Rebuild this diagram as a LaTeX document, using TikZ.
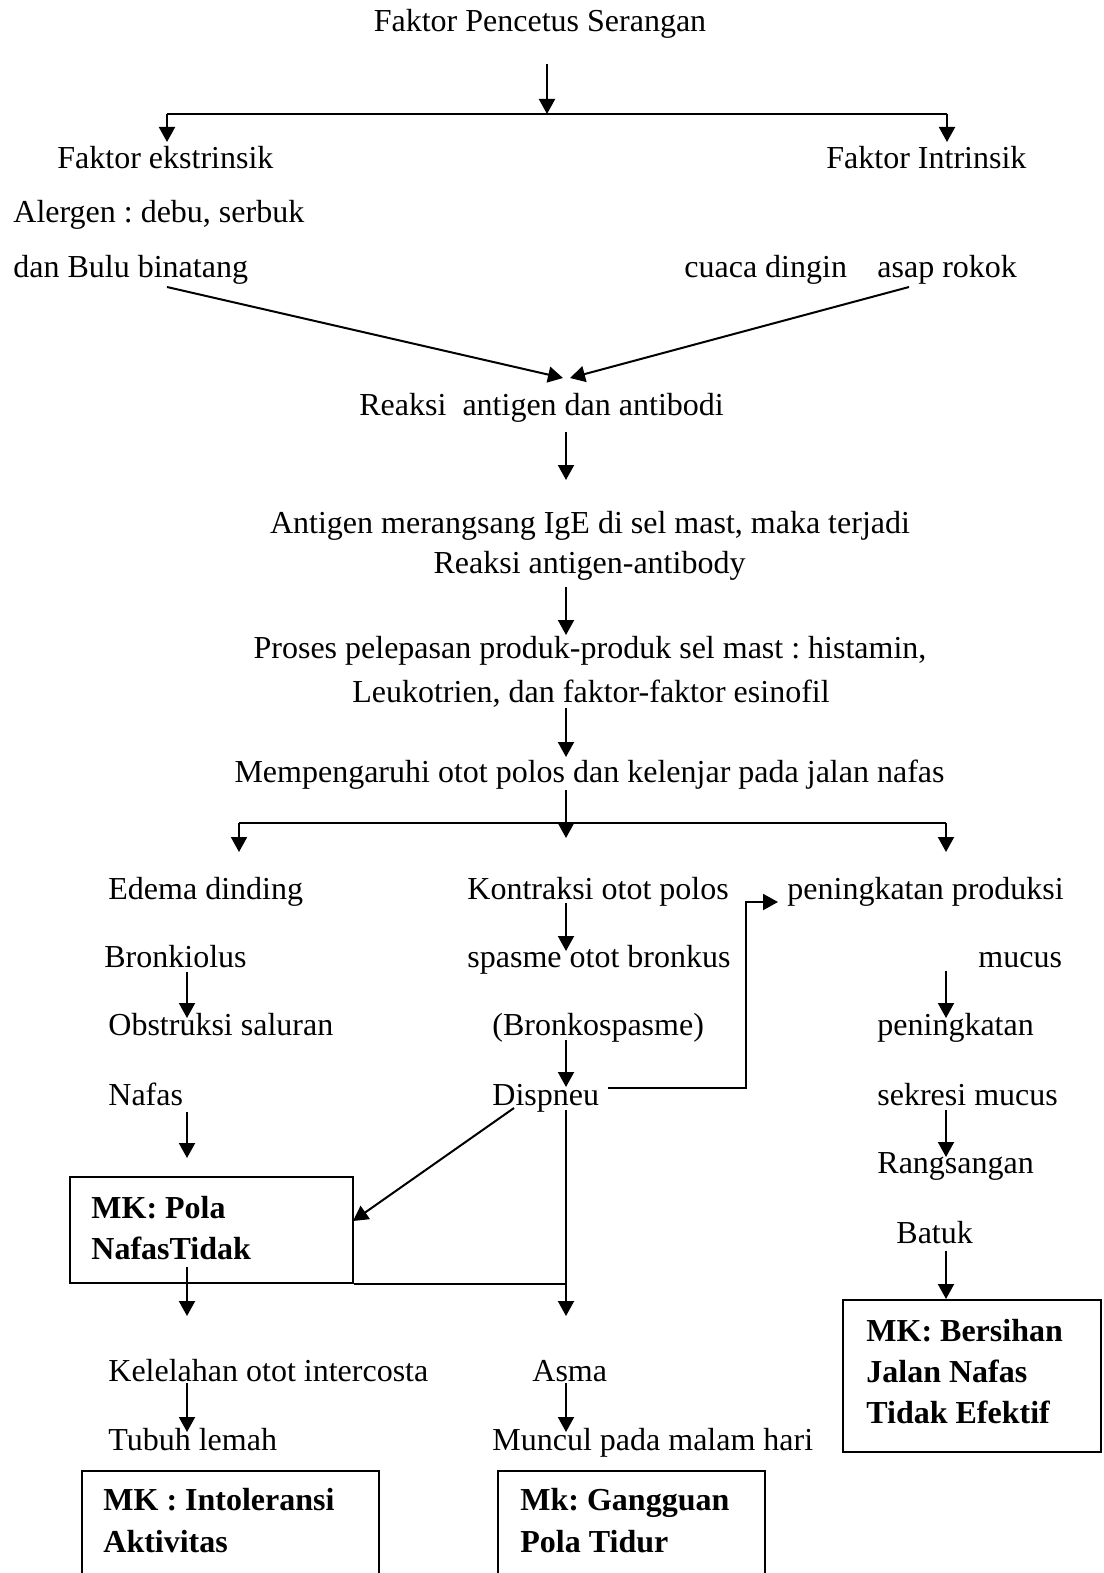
\documentclass[tikz,border=0pt]{standalone}
\usepackage{fontspec}
\setmainfont{Liberation Serif}
\usetikzlibrary{arrows.meta,fit}
\begin{document}
\frenchspacing
\begin{tikzpicture}[x=0.5pt,y=-0.5pt,
  txt/.style={inner sep=0pt,anchor=base west,font=\fontsize{16}{19}\selectfont},
  ctxt/.style={txt,anchor=base},
  btxt/.style={inner sep=0pt,anchor=base west,font=\fontsize{16}{19}\selectfont\bfseries},
  ln/.style={line width=1pt},
  arr/.style={ln,-{Triangle[length=7.5pt,width=8pt]}},
  boxst/.style={draw,line width=1pt,inner sep=0pt}]
\useasboundingbox (0,0) rectangle (1103,1573);
\clip (0,0) rectangle (1103,1573);

% ---- text nodes ----
\node[ctxt] (title) at (540,32) {Faktor Pencetus Serangan};
\node[txt] (ekst) at (57,169) {Faktor ekstrinsik};
\node[txt] (intr) at (826,169) {Faktor Intrinsik};
\node[txt] (alergen) at (13,223) {Alergen : debu, serbuk};
\node[txt] (bulu) at (13,278) {dan Bulu binatang};
\node[txt] (cuaca) at (684,278) {cuaca dingin};
\node[txt] (asap) at (877,278) {asap rokok};
\node[txt] (reak) at (359,415) {Reaksi\ \ antigen dan antibodi};
\node[ctxt] (antigen) at (590,533) {Antigen merangsang IgE di sel mast, maka terjadi};
\node[ctxt] (reak2) at (589.5,573) {Reaksi antigen-antibody};
\node[ctxt] (proses) at (590,658) {Proses pelepasan produk-produk sel mast : histamin,};
\node[ctxt] (leuko) at (591,702) {Leukotrien, dan faktor-faktor esinofil};
\node[ctxt] (memp) at (589.5,782) {Mempengaruhi otot polos dan kelenjar pada jalan nafas};

\node[txt] (edema) at (108,899) {Edema dinding};
\node[txt] (kontr) at (467,899) {Kontraksi otot polos};
\node[txt] (prod) at (787,899) {peningkatan produksi};
\node[txt] (bronk) at (104,967) {Bronkiolus};
\node[txt] (spasme) at (467,967) {spasme otot bronkus};
\node[txt] (mucus) at (978,967) {mucus};
\node[txt] (obst) at (108,1035) {Obstruksi saluran};
\node[txt] (bsp) at (492,1035) {(Bronkospasme)};
\node[txt] (ping) at (877,1035) {peningkatan};
\node[txt] (nafas) at (108,1105) {Nafas};
\node[txt] (disp) at (492,1105) {Dispneu};
\node[txt] (sekr) at (877,1105) {sekresi mucus};
\node[txt] (rang) at (877,1173) {Rangsangan};
\node[txt] (batuk) at (896,1243) {Batuk};
\node[txt] (kel) at (108,1381) {Kelelahan otot intercosta};
\node[txt] (asma) at (532,1381) {Asma};
\node[txt] (tubuh) at (108,1450) {Tubuh lemah};
\node[txt] (muncul) at (492,1450) {Muncul pada malam hari};

% ---- boxes ----
\node[boxst,fit={(70,1177) (353,1283)}] (pola) {};
\node[btxt] (pola1) at (91,1218) {MK: Pola};
\node[btxt] (pola2) at (91,1259) {NafasTidak};

\node[boxst,fit={(843,1300) (1101,1452)}] (bers) {};
\node[btxt] (bers1) at (866,1341) {MK: Bersihan};
\node[btxt] (bers2) at (866,1382) {Jalan Nafas};
\node[btxt] (bers3) at (866,1423) {Tidak Efektif};

\node[boxst,fit={(82,1471) (378.5,1620)}] (intol) {};
\node[btxt] (intol1) at (103,1510) {MK : Intoleransi};
\node[btxt] (intol2) at (103,1552) {Aktivitas};

\node[boxst,fit={(498,1471) (765,1620)}] (gang) {};
\node[btxt] (gang1) at (520,1510) {Mk: Gangguan};
\node[btxt] (gang2) at (520,1552) {Pola Tidur};

% ---- connector points ----
\coordinate (t0) at (547,64);
\coordinate (t1) at (547,114);
\coordinate (tl) at (167,114);
\coordinate (tr) at (947,114);
\coordinate (tl2) at (167,142);
\coordinate (tr2) at (947,142);
\coordinate (b0) at (167,287);
\coordinate (c0) at (909,287);
\coordinate (r0) at (563,378);
\coordinate (r1) at (570,378);
\coordinate (a1) at (566,432);
\coordinate (a2) at (566,480);
\coordinate (a3) at (566,587);
\coordinate (a4) at (566,635);
\coordinate (a5) at (566,708);
\coordinate (a6) at (566,757);
\coordinate (m0) at (566,790);
\coordinate (m1) at (566,838);
\coordinate (ml) at (239,823);
\coordinate (mr) at (946,823);
\coordinate (ml2) at (239,852);
\coordinate (mr2) at (946,852);
\coordinate (k1) at (566,903);
\coordinate (k2) at (566,951);
\coordinate (k3) at (566,1040);
\coordinate (k4) at (566,1087);
\coordinate (d0) at (608,1088);
\coordinate (d1) at (746,902);
\coordinate (d2) at (778,902);
\coordinate (e1) at (187,972);
\coordinate (e2) at (187,1018);
\coordinate (e3) at (187,1112);
\coordinate (e4) at (187,1158);
\coordinate (u1) at (946,971);
\coordinate (u2) at (946,1018);
\coordinate (u3) at (946,1110);
\coordinate (u4) at (946,1157);
\coordinate (u5) at (946,1251);
\coordinate (g0) at (514,1108);
\coordinate (g1) at (353,1221);
\coordinate (v0) at (566,1110);
\coordinate (v1) at (566,1316);
\coordinate (p1) at (187,1267);
\coordinate (p2) at (187,1316);
\coordinate (q1) at (187,1383);
\coordinate (q2) at (187,1432);
\coordinate (s1) at (566,1383);
\coordinate (s2) at (566,1432);

% ---- connectors ----
\draw[arr] (t0) -- (t1);
\draw[ln] (tl) -- (tr);
\draw[arr] (tl) -- (tl2);
\draw[arr] (tr) -- (tr2);
\draw[arr] (b0) -- (r0);
\draw[arr] (c0) -- (r1);
\draw[arr] (a1) -- (a2);
\draw[arr] (a3) -- (a4);
\draw[arr] (a5) -- (a6);
\draw[arr] (m0) -- (m1);
\draw[ln] (ml) -- (mr);
\draw[arr] (ml) -- (ml2);
\draw[arr] (mr) -- (mr2);
\draw[arr] (k1) -- (k2);
\draw[arr] (k3) -- (k4);
\draw[arr] (d0) -| (d1) -- (d2);
\draw[arr] (e1) -- (e2);
\draw[arr] (e3) -- (e4);
\draw[arr] (u1) -- (u2);
\draw[arr] (u3) -- (u4);
\draw[arr] (u5) -- (bers.north -| u5);
\draw[arr] (g0) -- (g1);
\draw[arr] (v0) -- (v1);
\draw[ln] (pola.south east) -- (pola.south east -| v0);
\draw[arr] (p1) -- (p2);
\draw[arr] (q1) -- (q2);
\draw[arr] (s1) -- (s2);
\end{tikzpicture}
\end{document}
